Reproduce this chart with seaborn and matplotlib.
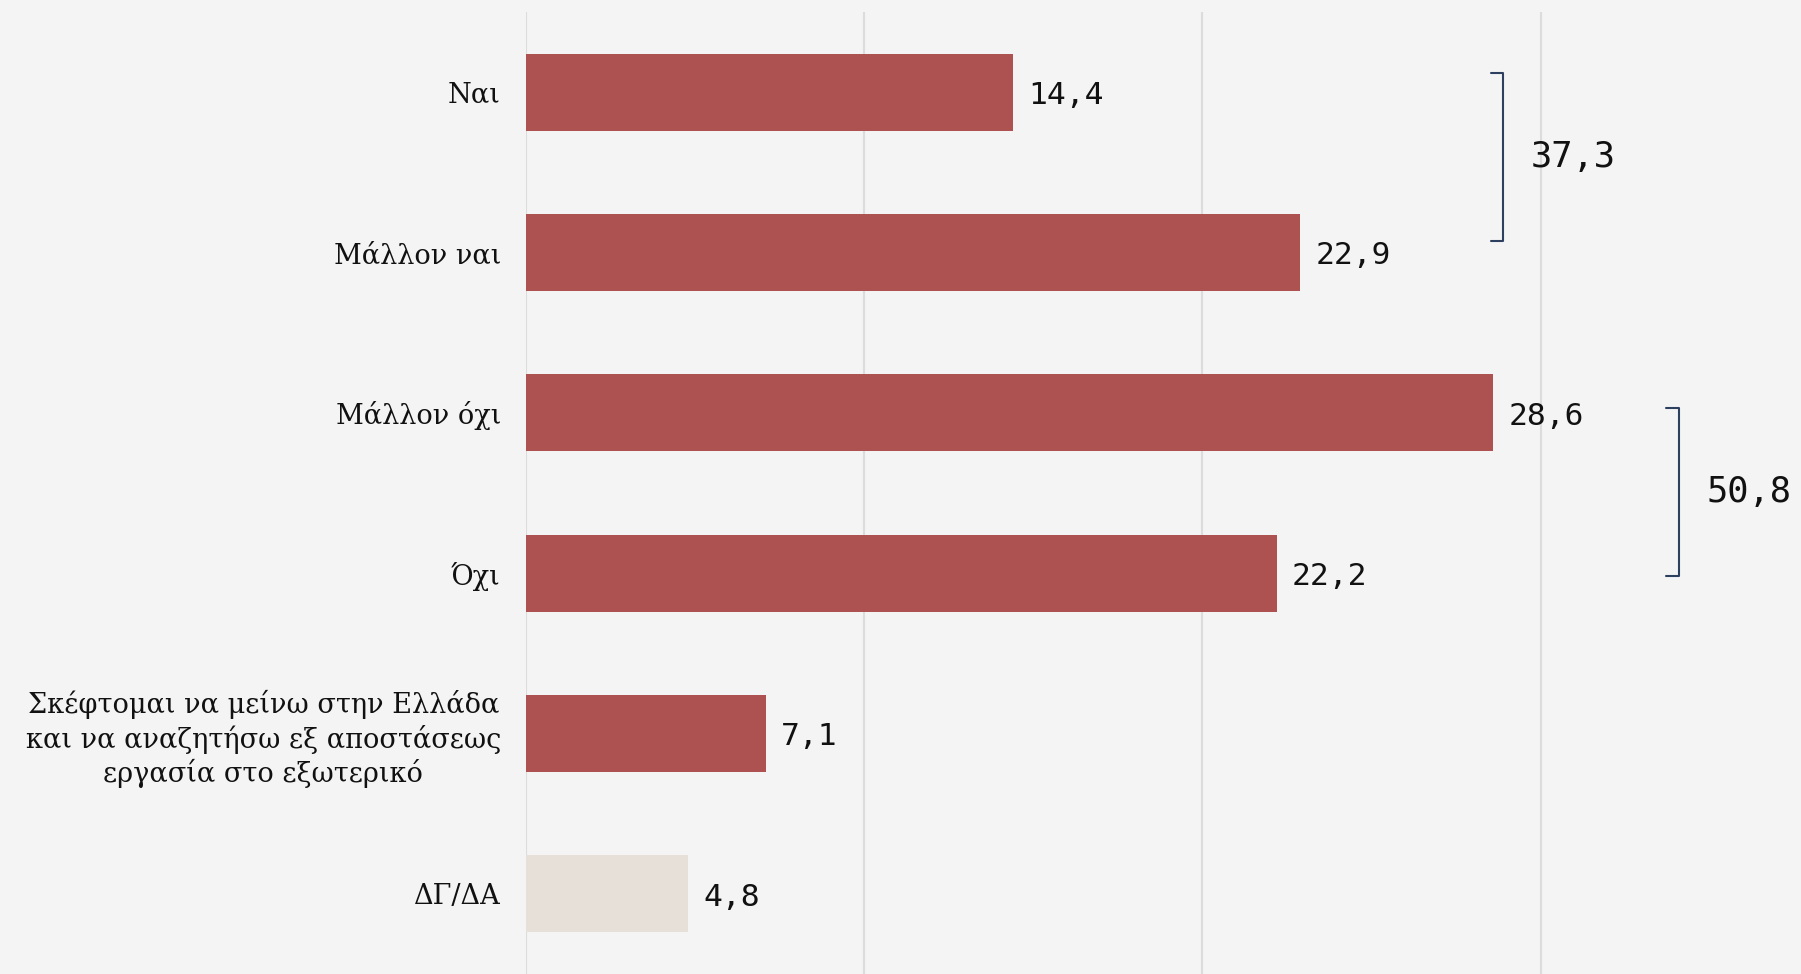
import seaborn as sns
import matplotlib.pyplot as plt

categories = ["Ναι", "Μάλλον ναι", "Μάλλον όχι", "Όχι",
              "Σκέφτομαι να μείνω στην Ελλάδα\nκαι να αναζητήσω εξ αποστάσεως\nεργασία στο εξωτερικό",
              "ΔΓ/ΔΑ"]
values = [14.4, 22.9, 28.6, 22.2, 7.1, 4.8]
bar_colors = ["#AD5250", "#AD5250", "#AD5250", "#AD5250", "#AD5250", "#E7E0D8"]

# bracketed group totals: (first row, last row, total)
groups = [(0, 1, 37.3), (2, 3, 50.8)]
group_x = [28.9, 34.1]
group_y = [(-0.12, 0.93), (1.97, 3.02)]

bg = "#F4F4F4"
sns.set_theme(style="white")
plt.rcParams['font.family'] = ['DejaVu Serif']

fig = plt.figure(figsize=(18.01, 9.74), dpi=100, facecolor=bg)
ax = fig.add_axes([0.292, 0.0, 0.708, 0.9877])
ax.set_facecolor(bg)

sns.barplot(x=values, y=categories, hue=categories, palette=bar_colors,
            orient="h", width=0.48, legend=False, saturation=1, linewidth=0, ax=ax)

ax.set_xlim(0, 37.7)
ax.set_ylim(5.5, -0.5)
for g in [0, 10, 20, 30]:
    ax.axvline(g, color="#DCDCDC", lw=1.5, zorder=0)
for s in ax.spines.values():
    s.set_visible(False)
ax.set_xticks([])
ax.tick_params(axis="y", length=0, pad=18, labelsize=19.5, labelcolor="#111111")
for lab in ax.get_yticklabels():
    lab.set_multialignment("center")
    lab.set_linespacing(1.22)
ax.set_xlabel("")
ax.set_ylabel("")

mono = ["DejaVu Sans Mono"]
for i, v in enumerate(values):
    ax.text(v + 0.45, i + 0.02, f"{v:.1f}".replace(".", ","), va="center", ha="left",
            fontsize=22.5, family=mono, color="#111111")

navy = "#2E4060"
for (a, b, tot), gx, (y0, y1) in zip(groups, group_x, group_y):
    ax.plot([gx - 0.38, gx, gx, gx - 0.38], [y0, y0, y1, y1], color=navy, lw=1.5,
            clip_on=False)
    ax.text(gx + 0.8, (y0 + y1) / 2, f"{tot:.1f}".replace(".", ","), va="center",
            ha="left", fontsize=25.5, family=mono, color="#111111", clip_on=False)

fig.savefig("out.png", dpi=100, facecolor=bg)
